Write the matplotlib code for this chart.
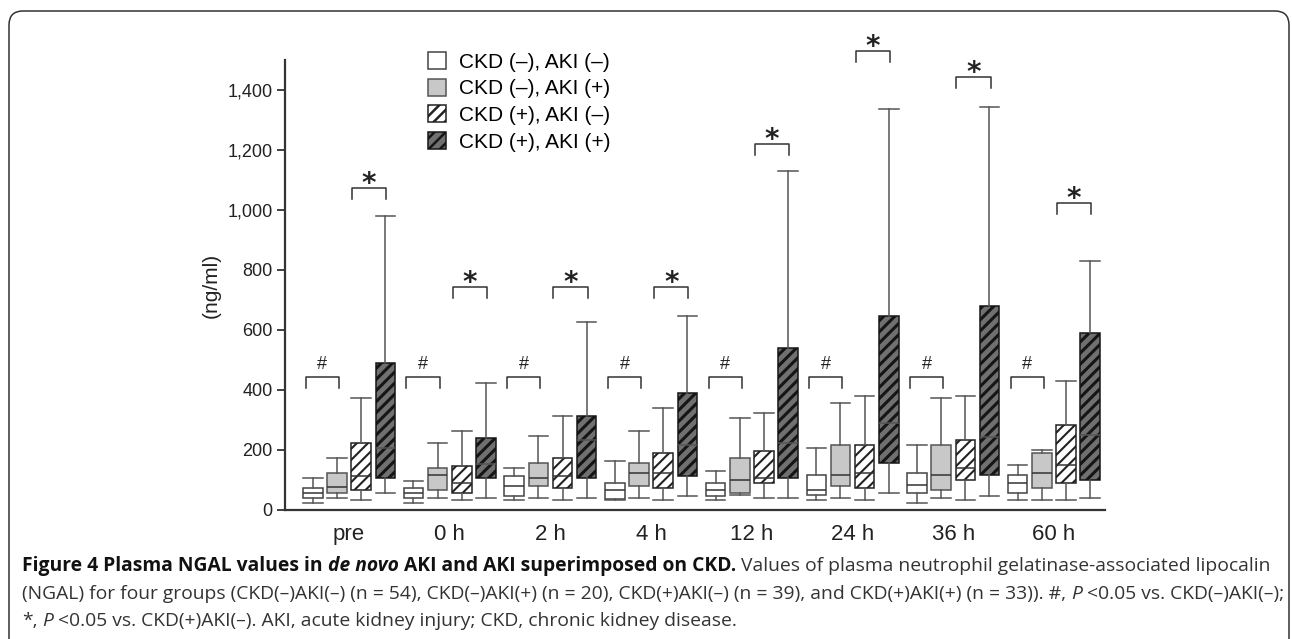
import matplotlib
matplotlib.use("Agg")
import matplotlib.pyplot as plt
import matplotlib.patches as mpatches
from matplotlib.ticker import FuncFormatter
from matplotlib.transforms import IdentityTransform

# ------------------------------------------------------------------
# Data (ng/ml)
# ------------------------------------------------------------------
time_points = ["pre", "0 h", "2 h", "4 h", "12 h", "24 h", "36 h", "60 h"]
group_labels = ["CKD (–), AKI (–)", "CKD (–), AKI (+)",
                "CKD (+), AKI (–)", "CKD (+), AKI (+)"]

# CKD(-) AKI(-)
g1_low = [24, 24, 33, 33, 33, 33, 24, 33]
g1_q1 = [39, 39, 47, 37, 47, 50, 58, 58]
g1_med = [58, 58, 81, 67, 67, 66, 82, 91]
g1_q3 = [74, 74, 114, 90, 91, 116, 122, 116]
g1_high = [108, 98, 139, 164, 131, 206, 216, 149]

# CKD(-) AKI(+)
g2_low = [39, 39, 39, 39, 50, 39, 39, 33]
g2_q1 = [58, 67, 81, 81, 58, 81, 66, 74]
g2_med = [76, 116, 108, 124, 99, 116, 116, 124]
g2_q3 = [122, 139, 158, 158, 172, 216, 216, 190]
g2_high = [172, 222, 248, 264, 306, 357, 373, 200]

# CKD(+) AKI(-)
g3_low = [33, 33, 33, 33, 39, 33, 33, 33]
g3_q1 = [67, 58, 74, 74, 91, 74, 99, 91]
g3_med = [114, 91, 114, 124, 108, 124, 140, 151]
g3_q3 = [222, 148, 174, 190, 198, 216, 233, 282]
g3_high = [373, 264, 314, 340, 324, 380, 380, 430]

# CKD(+) AKI(+)
g4_low = [58, 39, 39, 48, 39, 58, 48, 39]
g4_q1 = [107, 107, 107, 114, 107, 158, 116, 99]
g4_med = [207, 153, 233, 217, 222, 290, 245, 251]
g4_q3 = [490, 240, 314, 390, 540, 647, 680, 590]
g4_high = [980, 423, 627, 647, 1130, 1337, 1343, 830]

# significance brackets (top of bracket, ng/ml)
hash_tops = [443, 443, 443, 443, 443, 443, 443, 443]
star_tops = [1073, 743, 743, 743, 1220, 1530, 1443, 1023]

# ------------------------------------------------------------------
# Styling
# ------------------------------------------------------------------
W, H = 1292, 639
BOX_W = 0.194
STEP = 0.240
LEG = 37  # bracket leg length in data units
TICK_FONT = "Liberation Sans"
CAPTION_FONT = "Open Sans"

styles = [
    dict(facecolor="white", edgecolor="#444444", hatch=None, hlw=1.0),
    dict(facecolor="#c8c8c8", edgecolor="#555555", hatch=None, hlw=1.0),
    dict(facecolor="white", edgecolor="#222222", hatch="///", hlw=1.5),
    dict(facecolor="#707070", edgecolor="#151515", hatch="///", hlw=2.2),
]

plt.rcParams["font.family"] = [TICK_FONT, "DejaVu Sans"]
plt.rcParams["hatch.linewidth"] = 1.8

fig = plt.figure(figsize=(W / 100, H / 100), dpi=100)
ax = fig.add_axes([285 / W, 129 / H, 820 / W, 450 / H])

series = [
    (g1_low, g1_q1, g1_med, g1_q3, g1_high),
    (g2_low, g2_q1, g2_med, g2_q3, g2_high),
    (g3_low, g3_q1, g3_med, g3_q3, g3_high),
    (g4_low, g4_q1, g4_med, g4_q3, g4_high),
]

for k, (lo, q1, med, q3, hi) in enumerate(series):
    st = styles[k]
    stats = [dict(whislo=lo[i], q1=q1[i], med=med[i], q3=q3[i],
                  whishi=hi[i], fliers=[]) for i in range(len(time_points))]
    positions = [i + (k - 1.5) * STEP for i in range(len(time_points))]
    art = ax.bxp(
        stats, positions=positions, widths=BOX_W, capwidths=BOX_W,
        patch_artist=True, showfliers=False, manage_ticks=False,
        boxprops=dict(linewidth=1.1),
        whiskerprops=dict(color="#555555", linewidth=1.1),
        capprops=dict(color="#555555", linewidth=1.1),
        medianprops=dict(color="#333333" if k < 3 else "#555555", linewidth=1.1),
    )
    for box in art["boxes"]:
        box.set_facecolor(st["facecolor"])
        box.set_edgecolor(st["edgecolor"])
        if st["hatch"]:
            box.set_hatch(st["hatch"])
            if hasattr(box, "set_hatch_linewidth"):
                box.set_hatch_linewidth(st["hlw"])

# significance brackets
for i in range(len(time_points)):
    x0, x1 = i - 0.43, i - 0.10
    top = hash_tops[i]
    ax.plot([x0, x0, x1, x1], [top - LEG, top, top, top - LEG],
            color="#333333", lw=1.1, clip_on=False)
    ax.text((x0 + x1) / 2, top + 26, "#", ha="center", va="baseline",
            fontsize=13, color="#222222", clip_on=False)

    x0, x1 = i + 0.03, i + 0.37
    top = star_tops[i]
    ax.plot([x0, x0, x1, x1], [top - LEG, top, top, top - LEG],
            color="#333333", lw=1.1, clip_on=False)
    ax.text((x0 + x1) / 2, top - 14, "*", ha="center", va="baseline",
            fontsize=20, fontweight="bold", family="DejaVu Sans",
            color="#222222", clip_on=False)

# axes
ax.set_xlim(-0.636, 7.507)
ax.set_ylim(0, 1500)
ax.set_yticks(range(0, 1401, 200))
ax.yaxis.set_major_formatter(FuncFormatter(lambda v, p: f"{int(v):,}"))
ax.set_xticks(range(len(time_points)))
ax.set_xticklabels(time_points)
ax.tick_params(axis="x", length=0, pad=10, labelsize=16, labelcolor="#222222")
ax.tick_params(axis="y", length=6, width=1.3, pad=3, labelsize=13,
               labelcolor="#222222", color="#333333")
for side in ("top", "right"):
    ax.spines[side].set_visible(False)
for side in ("left", "bottom"):
    ax.spines[side].set_linewidth(1.6)
    ax.spines[side].set_color("#333333")
ax.set_ylabel("(ng/ml)", fontsize=15, color="#222222")
ax.yaxis.set_label_coords(-0.078, 0.5)

# legend
handles = [mpatches.Patch(facecolor=s["facecolor"], edgecolor=s["edgecolor"],
                          hatch=s["hatch"], linewidth=1.1) for s in styles]
fig.legend(handles, group_labels, loc="upper left",
           bbox_to_anchor=(428 / W, 1 - 52 / H), frameon=False, fontsize=15,
           handlelength=0.87, handleheight=0.87, handletextpad=0.63,
           labelspacing=0.34, borderpad=0, borderaxespad=0)

# frame around the figure
frame = mpatches.FancyBboxPatch(
    (9, -30), 1280, H - 11 + 30, boxstyle="round,pad=0,rounding_size=14",
    transform=IdentityTransform(), facecolor="none", edgecolor="#333333",
    linewidth=1.1)
fig.patches.append(frame)

# caption
renderer = fig.canvas.get_renderer()


def space_width(size, weight, style):
    def w(s):
        t = fig.text(0, 0, s, fontsize=size, fontweight=weight,
                     fontstyle=style, family=CAPTION_FONT)
        width = t.get_window_extent(renderer).width
        t.remove()
        return width
    return w("a a") - w("aa")


def draw_line(segments, x_px, y_px, size):
    x = x_px
    drawn = []
    for text, weight, style, color in segments:
        sw = space_width(size, weight, style)
        core = text.strip()
        x += (len(text) - len(text.lstrip())) * sw
        t = fig.text(x / W, 1 - y_px / H, core, fontsize=size,
                     fontweight=weight, fontstyle=style, color=color,
                     family=CAPTION_FONT, ha="left", va="center")
        drawn.append(t)
        x += t.get_window_extent(renderer).width
        x += (len(text) - len(text.rstrip())) * sw
    return x, drawn


line1 = [
    ("Figure 4 Plasma NGAL values in ", "bold", "normal", "#111111"),
    ("de novo", "bold", "italic", "#111111"),
    (" AKI and AKI superimposed on CKD.", "bold", "normal", "#111111"),
    (" Values of plasma neutrophil gelatinase-associated lipocalin",
     "normal", "normal", "#333333"),
]
line2 = [
    ("(NGAL) for four groups (CKD(–)AKI(–) (n = 54), CKD(–)AKI(+) (n = 20), "
     "CKD(+)AKI(–) (n = 39), and CKD(+)AKI(+) (n = 33)). #, ",
     "normal", "normal", "#333333"),
    ("P", "normal", "italic", "#333333"),
    (" <0.05 vs. CKD(–)AKI(–);", "normal", "normal", "#333333"),
]
line3 = [
    ("*, ", "normal", "normal", "#333333"),
    ("P", "normal", "italic", "#333333"),
    (" <0.05 vs. CKD(+)AKI(–). AKI, acute kidney injury; CKD, chronic kidney disease.",
     "normal", "normal", "#333333"),
]

CAP_X = 22
end, tmp = draw_line(line2, CAP_X, 0, 10)
for t in tmp:
    t.remove()
cap_size = 10 * (1284 - CAP_X) / (end - CAP_X)

for seg, y in ((line1, 566), (line2, 594), (line3, 621)):
    draw_line(seg, CAP_X, y, cap_size)

fig.savefig("out.png", dpi=100)
